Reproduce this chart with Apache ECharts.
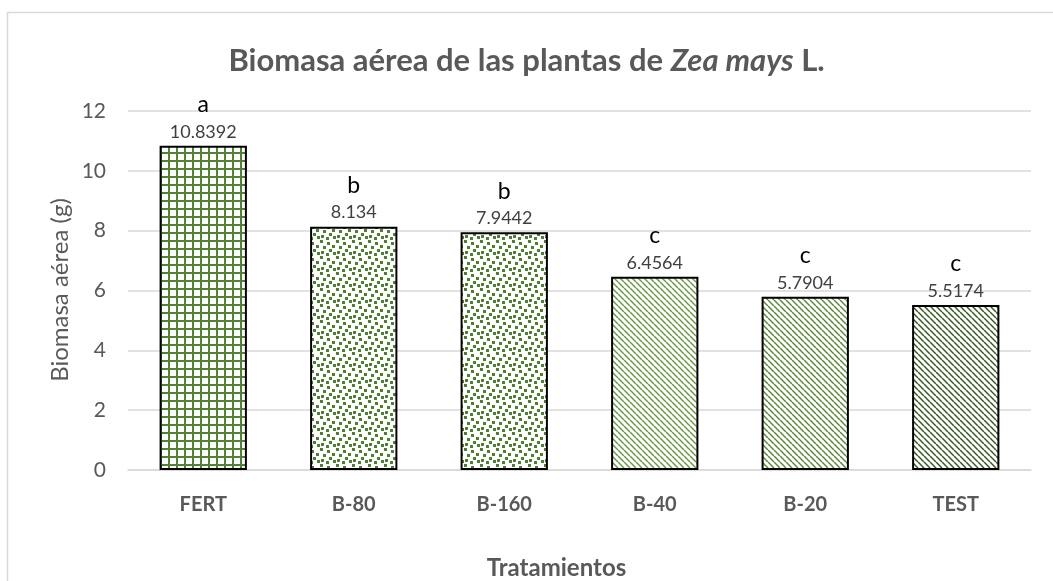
<!DOCTYPE html>
<html>
<head>
<meta charset="utf-8">
<script src="https://cdn.jsdelivr.net/npm/echarts@6/dist/echarts.min.js"></script>
<style>
  html, body { margin: 0; padding: 0; background: #fff; }
  #chart { width: 1053px; height: 581px; }
</style>
</head>
<body>
<div id="chart"></div>
<script>
const categories = ["FERT", "B-80", "B-160", "B-40", "B-20", "TEST"];
const biomasa = [10.8392, 8.134, 7.9442, 6.4564, 5.7904, 5.5174];
const letras = ["a", "b", "b", "c", "c", "c"];
const yTicks = [0, 2, 4, 6, 8, 10, 12];

// fill patterns, drawn on small canvases
function gridPattern() {
  const c = document.createElement("canvas");
  c.width = 8; c.height = 8;
  const g = c.getContext("2d");
  g.fillStyle = "#fff"; g.fillRect(0, 0, 8, 8);
  g.fillStyle = "#548235";
  g.fillRect(0, 0, 2, 8);
  g.fillRect(0, 0, 8, 2);
  return c;
}
function confettiPattern() {
  const c = document.createElement("canvas");
  c.width = 16; c.height = 16;
  const g = c.getContext("2d");
  g.fillStyle = "#fff"; g.fillRect(0, 0, 16, 16);
  g.fillStyle = "#4f7f32";
  const pts = [[0,0],[7,2],[12,5],[3,6],[9,9],[1,11],[6,13],[13,12]];
  pts.forEach(p => g.fillRect(p[0], p[1], 3, 3));
  return c;
}
function diagPattern(color) {
  const s = 6;
  const c = document.createElement("canvas");
  c.width = s; c.height = s;
  const g = c.getContext("2d");
  g.fillStyle = "#fff"; g.fillRect(0, 0, s, s);
  g.strokeStyle = color; g.lineWidth = 1.5;
  [[-s, 0], [0, 0], [s, 0]].forEach(o => {
    g.beginPath();
    g.moveTo(o[0], 0);
    g.lineTo(o[0] + s, s);
    g.stroke();
  });
  return c;
}
const fills = [
  gridPattern(), confettiPattern(), confettiPattern(),
  diagPattern("#6a9a45"), diagPattern("#5b8a3a"), diagPattern("#385a22")
];

const font = "Lato, 'Liberation Sans', sans-serif";
const chart = echarts.init(document.getElementById("chart"));
chart.setOption({
  animation: false,
  graphic: [{
    type: "rect",
    shape: { x: 7.5, y: 12.5, width: 1200, height: 800 },
    style: { fill: "none", stroke: "#d9d9d9", lineWidth: 1.5 },
    silent: true
  }, {
    // y axis title
    type: "text",
    x: 60,
    y: 290,
    rotation: Math.PI / 2,
    style: {
      text: "Biomasa aérea (g)",
      font: "24px " + font,
      fill: "#595959",
      align: "center",
      verticalAlign: "middle"
    },
    silent: true
  }],
  title: {
    text: "{b|Biomasa aérea de las plantas de }{i|Zea mays}{b| L.}",
    left: "center",
    top: 40,
    textStyle: {
      rich: {
        b: { fontFamily: font, fontSize: 31, fontWeight: "bold", color: "#595959" },
        i: { fontFamily: font, fontSize: 31, fontWeight: "bold", fontStyle: "italic", color: "#595959" }
      }
    }
  },
  grid: { left: 128, right: 22, top: 111, bottom: 111, outerBoundsMode: "none" },
  xAxis: {
    type: "category",
    data: categories,
    name: "Tratamientos",
    nameLocation: "middle",
    nameGap: 86,
    nameTextStyle: { fontFamily: font, fontSize: 24, fontWeight: "bold", color: "#595959", padding: [0, 46, 0, 0] },
    axisTick: { show: false },
    axisLine: { lineStyle: { color: "#d9d9d9", width: 1.5 } },
    axisLabel: { fontFamily: font, fontSize: 20, fontWeight: "bold", color: "#595959", margin: 25 }
  },
  yAxis: {
    type: "value",
    min: yTicks[0],
    max: yTicks[yTicks.length - 1],
    interval: 2,
    axisLine: { show: false },
    axisTick: { show: false },
    axisLabel: { fontFamily: font, fontSize: 21, color: "#595959", margin: 22 },
    splitLine: { lineStyle: { color: "#d9d9d9", width: 1.5 } }
  },
  series: [{
    type: "bar",
    barWidth: "58%",
    data: biomasa.map((v, i) => ({
      value: v,
      itemStyle: { color: { image: fills[i], repeat: "repeat" } }
    })),
    itemStyle: { borderColor: "#000", borderWidth: 2 },
    label: {
      show: true,
      position: "top",
      distance: 3,
      formatter: p => "{l|" + letras[p.dataIndex] + "}\n{v|" + p.value + "}",
      rich: {
        l: { fontFamily: font, fontSize: 23, color: "#000", lineHeight: 32 },
        v: { fontFamily: font, fontSize: 18, color: "#404040", lineHeight: 22 }
      }
    }
  }]
});
</script>
</body>
</html>
